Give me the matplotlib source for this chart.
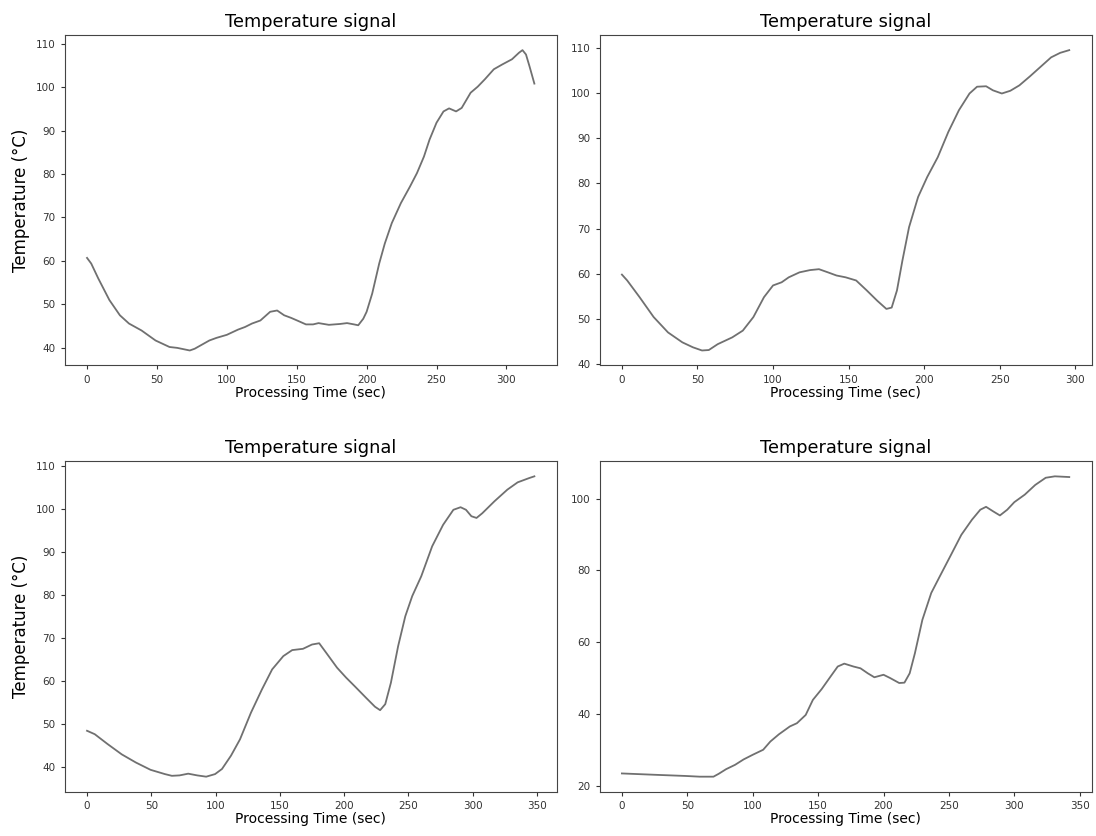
import matplotlib
matplotlib.use("Agg")
import matplotlib.pyplot as plt
from matplotlib.ticker import MultipleLocator

## temperature signals read from the four runs
t1 = [0, 3, 8, 16, 23.5, 30, 39, 49, 59, 64.5, 73.5, 77, 87.5, 92.6, 100, 108, 113, 118, 124,
      131, 136, 141, 146, 151, 156.6, 161.7, 165.6, 173, 181, 186, 191, 194, 197.6, 200, 204,
      209, 213, 218, 224.5, 231, 236, 241, 245, 250, 255, 259, 264, 268, 274.4, 279.5, 284.6,
      291, 297, 304, 309, 311.5, 314, 316.5, 320]
y1 = [60.7, 59.4, 56, 51, 47.5, 45.6, 44, 41.7, 40.2, 40, 39.4, 39.8, 41.7, 42.3, 43, 44.2,
      44.8, 45.6, 46.3, 48.3, 48.6, 47.5, 46.9, 46.2, 45.4, 45.4, 45.7, 45.3, 45.5, 45.7, 45.4,
      45.2, 46.7, 48.3, 52.5, 59.4, 64, 68.7, 73.3, 77.1, 80.2, 84, 87.9, 91.8, 94.4, 95.1, 94.4,
      95.2, 98.7, 100.1, 101.8, 104.1, 105.2, 106.4, 107.9, 108.5, 107.5, 104.8, 100.8]

t2 = [0, 3.5, 11.7, 21, 30.5, 40, 47, 53, 57.5, 63.4, 73, 80, 87, 94, 100, 105.7, 110.4, 117.5,
      124.5, 130.4, 136.3, 142, 148, 155, 162, 169, 175, 178.5, 182, 185.6, 190, 196, 202, 209,
      216, 223, 230, 235, 241, 245.5, 251.4, 257, 263, 270, 277, 284, 290, 296]
y2 = [59.8, 58.5, 54.8, 50.4, 47, 44.8, 43.7, 43, 43.1, 44.4, 45.9, 47.4, 50.4, 54.8, 57.4, 58.1,
      59.2, 60.3, 60.8, 61, 60.3, 59.6, 59.2, 58.5, 56.3, 54, 52.2, 52.5, 56.3, 62.9, 70.3, 77,
      81.4, 85.8, 91.4, 96.2, 99.9, 101.4, 101.5, 100.6, 99.9, 100.5, 101.7, 103.7, 105.8,
      107.9, 108.9, 109.5]

t3 = [0, 6, 16, 27, 38, 49.4, 60.6, 66, 72, 78.7, 85.7, 92.7, 99.6, 105, 112, 119, 127.5, 136,
      144, 152.7, 159.6, 168, 175, 180.6, 186, 194.5, 201.5, 208.5, 217, 224, 228, 232, 236.4,
      242, 247.6, 253, 260, 268.5, 277, 285, 290.6, 294.8, 299, 303, 307.5, 317, 327, 335, 344,
      348]
y3 = [48.4, 47.6, 45.3, 42.9, 41, 39.3, 38.3, 37.9, 38, 38.4, 38, 37.7, 38.3, 39.5, 42.6, 46.4,
      52.6, 58, 62.7, 65.8, 67.2, 67.5, 68.5, 68.8, 66.6, 63.1, 60.8, 58.7, 56.1, 54, 53.2, 54.6,
      59.6, 68.1, 75.1, 79.8, 84.4, 91.4, 96.4, 99.9, 100.5, 99.9, 98.4, 98, 99.1, 101.9, 104.6,
      106.3, 107.3, 107.7]

t4 = [0, 27, 48.6, 59.5, 70, 74, 79.7, 86.5, 93, 100, 108, 113.5, 120, 128.4, 133.8, 140.5, 146,
      152.7, 159.5, 165, 170, 177, 182.4, 188, 193, 200, 205, 212, 216, 220, 224, 229.7, 236.5,
      243, 251, 259.5, 267.6, 274, 278.4, 284, 289, 294.6, 300, 308, 316, 324, 331, 342]
y4 = [23.4, 23, 22.7, 22.5, 22.5, 23.3, 24.6, 25.8, 27.3, 28.6, 30, 32.3, 34.3, 36.5, 37.4,
      39.7, 43.9, 46.9, 50.4, 53.2, 54, 53.2, 52.7, 51.3, 50.2, 50.9, 50, 48.6, 48.7, 51.3, 56.9,
      66.2, 73.7, 78.3, 83.9, 89.9, 94.1, 96.9, 97.7, 96.4, 95.3, 96.9, 99, 101.1, 103.8, 105.8,
      106.2, 106]

series = [(t1, y1, 10), (t2, y2, 10), (t3, y3, 10), (t4, y4, 20)]

fig, axes = plt.subplots(2, 2, figsize=(10.96, 8.36), dpi=100)
fig.subplots_adjust(left=0.059, right=0.996, top=0.958, bottom=0.053, wspace=0.087, hspace=0.29)

for i, (ax, (t, y, ystep)) in enumerate(zip(axes.flat, series)):
    ax.plot(t, y, color="#707070", linewidth=1.3)
    ax.set_title("Temperature signal", fontsize=12.8)
    ax.set_xlabel("Processing Time (sec)", fontsize=10, labelpad=1)
    if i % 2 == 0:
        ax.set_ylabel("Temperature (\u00b0C)", fontsize=12)
    ax.xaxis.set_major_locator(MultipleLocator(50))
    ax.yaxis.set_major_locator(MultipleLocator(ystep))
    ax.tick_params(labelsize=7.5, length=3, colors="#333333")
    for s in ax.spines.values():
        s.set_color("#444444")

plt.savefig("out.png", dpi=100)
